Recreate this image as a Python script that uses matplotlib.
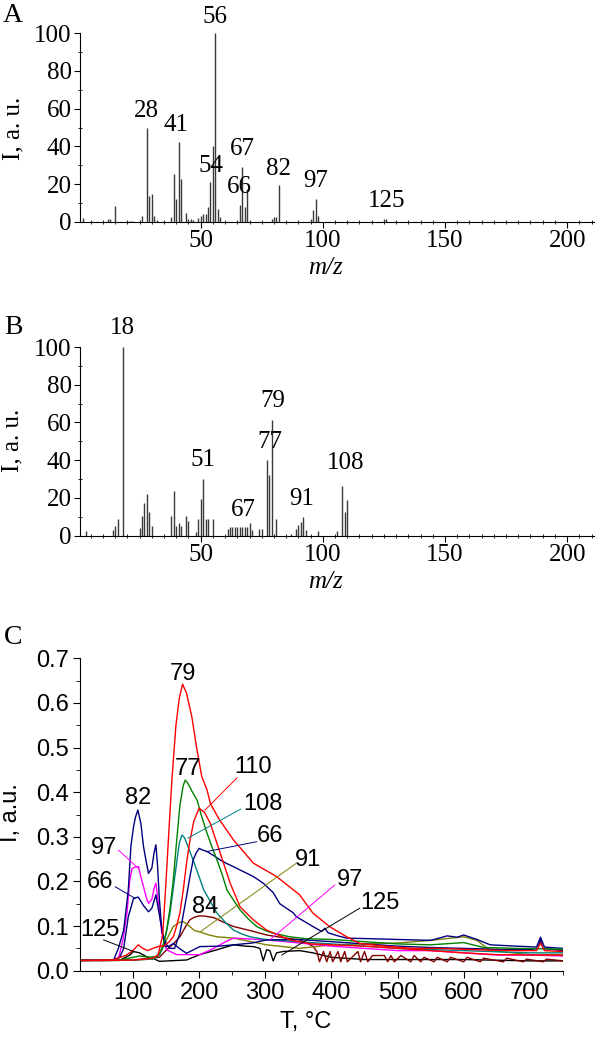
import numpy as np
import matplotlib
matplotlib.use("Agg")
import matplotlib.pyplot as plt
from matplotlib.ticker import MultipleLocator

W, H = 600, 1037
serif = "Liberation Serif"
sans = "Liberation Sans"

# ---- spectrum A ----
mzA = [2, 12, 13, 15, 20, 21, 22, 26, 28, 29, 30, 31, 32, 38, 39, 40, 41, 42, 44, 45, 46, 47,
       49, 50, 51, 52, 53, 54, 55, 56, 57, 58, 66, 67, 68, 69, 79, 80, 81, 82, 95, 96, 97, 98,
       125, 126]
intA = [2, 1.5, 1.5, 8.5, 0.5, 0.5, 0.5, 3, 50, 14, 15, 3, 1, 2.5, 25.5, 12, 42.5, 23, 5, 1.5,
        1.5, 1, 2, 3, 4, 4, 8, 21, 40, 100, 7, 2.5, 9, 29, 8, 17.5, 1.5, 2.5, 2.5, 19.5, 1.5,
        6.5, 12.3, 3, 1.5, 1.5]
labA = ["28", "41", "54", "56", "66", "67", "82", "97", "125"]
labA_pos = [(27.6, 53), (40, 45.5), (54.3, 24), (56, 102.6), (66, 12.5), (66.9, 32.8),
            (81.9, 22.2), (97, 16), (126, 5.4)]

# ---- spectrum B ----
mzB = [3, 14, 15, 16, 18, 25, 26, 27, 28, 29, 30, 38, 39, 40, 41, 42, 44, 45, 48, 49, 50, 51,
       52, 53, 55, 61, 62, 63, 64, 65, 66, 67, 68, 69, 70, 71, 74, 75, 77, 78, 79, 81, 87, 89,
       90, 91, 92, 93, 98, 106, 108, 109, 110]
intB = [2.3, 2.7, 5.2, 8.9, 100, 4.1, 10.6, 17.4, 21.8, 12.6, 5.2, 10.6, 23.4, 4.8, 6.4, 5.2,
        10.6, 7.6, 2.1, 8.9, 19.5, 30.2, 8.9, 8.9, 8.9, 3.3, 4.7, 4.7, 4.7, 4.7, 4.7, 4.7, 4.7,
        4.7, 6.5, 3, 3.3, 3.5, 40, 32, 61.4, 9, 1, 3.5, 5.6, 7.4, 10, 3, 2.6, 2.6, 26, 12.5, 19]
labB = ["18", "51", "67", "77", "79", "91", "108"]
labB_pos = [(18, 104), (50.9, 34.3), (67.3, 7.9), (78.2, 44), (79.6, 65.3), (91.5, 13.6),
            (109.3, 32.7)]

# ---- TPD curves C ----
T79 = [20, 60, 100, 120, 130, 138, 145, 150, 155, 159, 165, 170, 175, 181, 189, 196, 204, 212,
       217, 230, 252, 282, 317, 352, 372, 397, 423, 443, 480, 523, 560, 600, 640, 680, 710,
       716, 722, 750]
I79 = [0.023, 0.023, 0.024, 0.026, 0.028, 0.035, 0.08, 0.2, 0.33, 0.43, 0.55, 0.61, 0.642,
       0.622, 0.569, 0.502, 0.435, 0.405, 0.375, 0.34, 0.293, 0.241, 0.211, 0.17, 0.129, 0.099,
       0.076, 0.061, 0.055, 0.05, 0.05, 0.048, 0.046, 0.045, 0.045, 0.062, 0.045, 0.043]

T110 = [20, 70, 90, 100, 108, 115, 122, 130, 140, 146, 155, 161, 166, 171, 176, 181, 186, 192,
        200, 208, 217, 232, 247, 262, 282, 302, 337, 370, 400, 450, 500, 550, 600, 650, 700, 750]
I110 = [0.023, 0.024, 0.035, 0.045, 0.058, 0.05, 0.045, 0.05, 0.055, 0.055, 0.065, 0.076, 0.1,
        0.129, 0.18, 0.241, 0.29, 0.335, 0.364, 0.355, 0.33, 0.263, 0.196, 0.143, 0.114, 0.091,
        0.069, 0.06, 0.058, 0.055, 0.05, 0.045, 0.04, 0.036, 0.035, 0.035]

T77 = [20, 80, 100, 110, 125, 135, 141, 146, 151, 156, 161, 166, 171, 176, 179, 183, 190, 197,
       204, 212, 220, 227, 235, 242, 252, 262, 275, 287, 300, 312, 337, 360, 400, 450, 500, 550,
       600, 630, 680, 750]
I77 = [0.023, 0.024, 0.03, 0.033, 0.03, 0.032, 0.04, 0.06, 0.091, 0.14, 0.203, 0.29, 0.37,
       0.415, 0.427, 0.42, 0.4, 0.382, 0.345, 0.308, 0.275, 0.248, 0.215, 0.181, 0.158, 0.136,
       0.115, 0.099, 0.09, 0.084, 0.076, 0.072, 0.07, 0.065, 0.06, 0.058, 0.063, 0.052, 0.05,
       0.048]

T108 = [20, 100, 130, 140, 146, 151, 156, 161, 166, 170, 174, 178, 184, 191, 199, 207, 217, 227,
        240, 252, 265, 277, 300, 350, 400, 500, 600, 700, 750]
I108 = [0.023, 0.024, 0.026, 0.035, 0.054, 0.09, 0.129, 0.185, 0.241, 0.285, 0.304, 0.298,
        0.275, 0.248, 0.215, 0.181, 0.155, 0.129, 0.108, 0.091, 0.082, 0.076, 0.07, 0.065, 0.06,
        0.05, 0.045, 0.04, 0.04]

T82 = [20, 60, 71, 78, 86, 93, 97, 101, 104, 107.5, 112, 116, 120, 123.5, 128.6, 132, 134.7,
       137, 140, 143.7, 148.6, 155, 161, 170, 181, 201, 230, 252, 280, 302, 350, 400, 450, 500,
       550, 600, 650, 700, 712, 716, 720, 750]
I82 = [0.023, 0.023, 0.025, 0.05, 0.091, 0.181, 0.28, 0.323, 0.345, 0.36, 0.33, 0.278, 0.245,
       0.218, 0.23, 0.265, 0.282, 0.24, 0.16, 0.091, 0.054, 0.055, 0.061, 0.05, 0.039, 0.054,
       0.055, 0.058, 0.062, 0.069, 0.07, 0.065, 0.06, 0.055, 0.052, 0.05, 0.048, 0.047, 0.05,
       0.07, 0.05, 0.045]

T66 = [20, 70, 80, 86, 93, 101, 108, 116, 123.5, 128.6, 134.7, 138.6, 143, 146, 151, 156, 163,
       171, 176, 181, 186, 191, 196, 200, 206, 212, 222, 232, 242, 252, 267, 282, 297, 312, 322,
       342, 347, 372, 385, 390, 395, 410, 423, 450, 500, 550, 575, 590, 600, 620, 640, 680, 710,
       716, 722, 750]
I66 = [0.023, 0.023, 0.03, 0.05, 0.121, 0.162, 0.165, 0.146, 0.132, 0.14, 0.17, 0.136, 0.1,
       0.076, 0.058, 0.05, 0.05, 0.084, 0.125, 0.166, 0.21, 0.248, 0.265, 0.274, 0.27, 0.267,
       0.258, 0.248, 0.24, 0.233, 0.222, 0.211, 0.196, 0.175, 0.15, 0.13, 0.121, 0.099, 0.088,
       0.095, 0.085, 0.078, 0.073, 0.072, 0.07, 0.068, 0.078, 0.075, 0.08, 0.07, 0.058, 0.055,
       0.053, 0.075, 0.053, 0.05]

T97 = [20, 70, 78.6, 85, 91, 95, 98.5, 103, 108.5, 112, 116, 120, 123.5, 128.6, 132, 134.7,
       138.6, 143.7, 151, 166, 201, 215, 227, 240, 252, 302, 352, 400, 450, 500, 550, 600, 650,
       700, 750]
I97 = [0.023, 0.024, 0.03, 0.07, 0.129, 0.2, 0.229, 0.232, 0.233, 0.21, 0.188, 0.165, 0.151,
       0.16, 0.185, 0.196, 0.151, 0.084, 0.047, 0.036, 0.036, 0.045, 0.054, 0.065, 0.073, 0.069,
       0.062, 0.055, 0.05, 0.045, 0.045, 0.04, 0.035, 0.035, 0.033]

T91 = [20, 100, 130, 141, 151, 161, 170, 176, 181, 186, 193, 201, 215, 227, 252, 302, 352, 400,
       450, 500, 550, 600, 620, 640, 700, 750]
I91 = [0.023, 0.024, 0.026, 0.04, 0.07, 0.099, 0.108, 0.11, 0.105, 0.099, 0.09, 0.087, 0.08,
       0.076, 0.073, 0.058, 0.05, 0.058, 0.06, 0.062, 0.068, 0.076, 0.068, 0.045, 0.036, 0.036]

T84 = [20, 100, 140, 151, 161, 171, 180, 186, 193, 201, 210, 222, 235, 252, 277, 302, 327, 352,
       372, 378, 382, 388, 393, 398, 402, 410, 414, 420, 424, 440, 444, 450, 455, 462, 480, 485,
       490, 495, 505, 520, 525, 535, 540, 555, 560, 575, 580, 600, 605, 625, 630, 660, 665, 690,
       695, 720, 725, 750]
I84 = [0.023, 0.024, 0.03, 0.047, 0.06, 0.076, 0.1, 0.114, 0.12, 0.123, 0.122, 0.119, 0.11,
       0.099, 0.09, 0.08, 0.074, 0.069, 0.055, 0.043, 0.02, 0.043, 0.02, 0.043, 0.02, 0.043,
       0.02, 0.043, 0.02, 0.043, 0.02, 0.043, 0.02, 0.034, 0.034, 0.02, 0.034, 0.02, 0.034, 0.02,
       0.034, 0.02, 0.03, 0.02, 0.03, 0.02, 0.03, 0.02, 0.03, 0.02, 0.028, 0.02, 0.028, 0.02,
       0.026, 0.02, 0.026, 0.022]

T125 = [20, 80, 95, 101, 110, 121, 130, 140, 181, 201, 227, 252, 270, 282, 292, 297, 302, 307,
        312, 317, 327, 352, 372, 400, 450, 500, 600, 700, 750]
I125 = [0.023, 0.023, 0.035, 0.043, 0.04, 0.031, 0.028, 0.021, 0.024, 0.036, 0.047, 0.058, 0.055,
        0.054, 0.05, 0.022, 0.047, 0.045, 0.022, 0.04, 0.043, 0.045, 0.04, 0.03, 0.025, 0.025,
        0.025, 0.022, 0.022]

curves = [(T125, I125, "black"), (T84, I84, "#800000"), (T91, I91, "#808000"),
          (T97, I97, "#ff00ff"), (T108, I108, "#008080"), (T66, I66, "#000080"),
          (T82, I82, "#000080"), (T77, I77, "#008000"), (T110, I110, "#ff0000"),
          (T79, I79, "#ff0000")]

# label text, text position, leader start, leader end, colour
labC = [("79", (175.4, 0.665), None, None, None),
        ("77", (183, 0.452), None, None, None),
        ("110", (281.8, 0.456), (257.2, 0.432), (209, 0.36), "#ff0000"),
        ("108", (297, 0.373), (262.8, 0.362), (183, 0.297), "#008080"),
        ("66", (307, 0.302), (287, 0.289), (211.6, 0.267), "#000080"),
        ("91", (364.7, 0.248), (347.2, 0.241), (201.5, 0.087), "#808000"),
        ("97", (427.6, 0.203), (405, 0.192), (307, 0.069), "#ff00ff"),
        ("125", (472.8, 0.151), (442.7, 0.14), (325, 0.035), "black"),
        ("84", (209, 0.143), None, None, None),
        ("82", (108.4, 0.386), None, None, None),
        ("97", (55.7, 0.274), (78.3, 0.27), (108.4, 0.229), "#ff00ff"),
        ("66", (50.7, 0.199), (73.3, 0.188), (103.5, 0.162), "#000080"),
        ("125", (50.7, 0.091), (55.7, 0.069), (101, 0.043), "black")]


def px(x, y):
    return x / W, 1 - y / H


fig = plt.figure(figsize=(W / 100, H / 100), dpi=100)


def spectrum(ax, mz, inten, labs, lab_pos):
    ax.vlines(mz, 0, inten, color="#3a3a3a", lw=1.0)
    ax.set_xlim(0.6, 211)
    ax.set_ylim(0, 100)
    for s in ["top", "right"]:
        ax.spines[s].set_visible(False)
    ax.xaxis.set_major_locator(MultipleLocator(50))
    ax.xaxis.set_minor_locator(MultipleLocator(5))
    ax.yaxis.set_major_locator(MultipleLocator(20))
    ax.yaxis.set_minor_locator(MultipleLocator(10))
    ax.tick_params(which="major", direction="out", length=4, width=0.8, pad=2)
    ax.tick_params(which="minor", direction="inout", length=3, width=0.6)
    for t in ax.get_xticklabels() + ax.get_yticklabels():
        t.set_fontfamily(serif)
        t.set_fontsize(18)
    ax.set_xticks([50, 100, 150, 200])
    for s, (x, y) in zip(labs, lab_pos):
        ax.text(x, y, s, ha="center", va="bottom", fontfamily=serif, fontsize=18,
                clip_on=False)


axA = fig.add_axes([80 / W, 1 - 222 / H, 514 / W, 189 / H])
spectrum(axA, mzA, intA, labA, labA_pos)
axB = fig.add_axes([80 / W, 1 - 535.5 / H, 514 / W, 188.5 / H])
spectrum(axB, mzB, intB, labB, labB_pos)

fig.text(*px(13, 16), "A", fontfamily=serif, fontsize=20, ha="center", va="center")
fig.text(*px(13, 327), "B", fontfamily=serif, fontsize=20, ha="center", va="center")
fig.text(*px(13, 637), "C", fontfamily=serif, fontsize=20, ha="center", va="center")
fig.text(*px(325, 268), "m/z", fontfamily=serif, fontstyle="italic", fontsize=18,
         ha="center", va="center")
fig.text(*px(325, 582), "m/z", fontfamily=serif, fontstyle="italic", fontsize=18,
         ha="center", va="center")
fig.text(*px(13, 128), "I, a. u.", fontfamily=serif, fontsize=18, rotation=90,
         ha="center", va="center")
fig.text(*px(12, 440), "I, a. u.", fontfamily=serif, fontsize=18, rotation=90,
         ha="center", va="center")

# ---- panel C ----
axC = fig.add_axes([80 / W, 1 - 970.7 / H, 483 / W, 312.4 / H])
for T, I, c in curves:
    axC.plot(T, I, color=c, lw=1.0)
for s, pos, p0, p1, c in labC:
    axC.text(pos[0], pos[1], s, ha="center", va="center", fontfamily=sans, fontsize=17)
    if p0 is not None:
        axC.plot([p0[0], p1[0]], [p0[1], p1[1]], color=c, lw=0.7)
axC.set_xlim(20, 750)
axC.set_ylim(0, 0.7)
for s in ["top", "right"]:
    axC.spines[s].set_visible(False)
axC.xaxis.set_major_locator(MultipleLocator(100))
axC.xaxis.set_minor_locator(MultipleLocator(50))
axC.yaxis.set_major_locator(MultipleLocator(0.1))
axC.yaxis.set_minor_locator(MultipleLocator(0.05))
axC.yaxis.set_major_formatter(plt.FuncFormatter(lambda v, p: "%.1f" % v))
axC.tick_params(which="major", direction="out", length=5, width=0.8, pad=3)
axC.tick_params(which="minor", direction="out", length=3, width=0.6)
for t in axC.get_xticklabels() + axC.get_yticklabels():
    t.set_fontfamily(sans)
    t.set_fontsize(17)
fig.text(*px(306, 1022), "T, \u00b0C", fontfamily=sans, fontsize=17, ha="center", va="center")
fig.text(*px(11, 813), "I, a.u.", fontfamily=sans, fontsize=17, rotation=90,
         ha="center", va="center")

fig.savefig("out.png", dpi=100)
